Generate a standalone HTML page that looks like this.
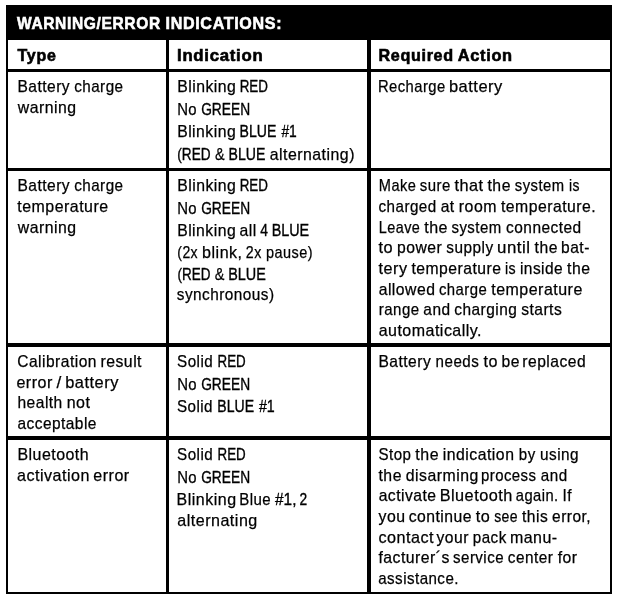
<!DOCTYPE html>
<html lang="en">
<head>
<meta charset="utf-8">
<title>Warning/Error Indications</title>
<style>
html,body{margin:0;padding:0;background:#fff;}
body{width:618px;height:598px;position:relative;overflow:hidden;font-family:"Liberation Sans",sans-serif;font-size:16.4px;color:#000;}
table,caption,thead,tbody,tr,th,td{display:block;margin:0;padding:0;border:0;font:inherit;text-align:left;}
.r{position:absolute;background:#000;}
.t{position:absolute;left:0;width:618px;height:20px;line-height:20px;white-space:pre;letter-spacing:0.5px;-webkit-text-stroke:0.25px #000;}
.t span{position:absolute;top:0;left:0;transform-origin:0 0;}
.t .u{letter-spacing:0px;-webkit-text-stroke-width:0.35px;}
caption .t,th .t{font-weight:700;font-size:16.6px;letter-spacing:0.7px;-webkit-text-stroke:0.6px #000;}
caption .t{color:#fff;-webkit-text-stroke-color:#fff;}
</style>
</head>
<body>
<!-- table frame: header bar, outer border, column and row rules -->
<div class="r" style="left:6px;top:5px;width:606px;height:35px"></div>
<div class="r" style="left:6px;top:5px;width:2px;height:589px"></div>
<div class="r" style="left:610px;top:5px;width:2px;height:589px"></div>
<div class="r" style="left:6px;top:592px;width:606px;height:2px"></div>
<div class="r" style="left:166px;top:40px;width:3px;height:554px"></div>
<div class="r" style="left:367px;top:40px;width:4px;height:554px"></div>
<div class="r" style="left:6px;top:69px;width:606px;height:3px"></div>
<div class="r" style="left:6px;top:168px;width:606px;height:3px"></div>
<div class="r" style="left:6px;top:343px;width:606px;height:4px"></div>
<div class="r" style="left:6px;top:436px;width:606px;height:4px"></div>
<table>
<caption><div class="t" style="top:14px"><span style="transform:translateX(16.94px) scaleX(0.9353)">WARNING/ERROR</span> <span style="transform:translateX(165.56px) scaleX(0.9674)">INDICATIONS:</span></div></caption>
<thead><tr>
<th><div class="t" style="top:46px"><span style="transform:translateX(17.62px) scaleX(0.9635)">Type</span></div></th>
<th><div class="t" style="top:46px"><span style="transform:translateX(177.04px) scaleX(1.0114)">Indication</span></div></th>
<th><div class="t" style="top:46px"><span style="transform:translateX(378.39px) scaleX(0.9730)">Required</span> <span style="transform:translateX(457.70px) scaleX(0.9873)">Action</span></div></th>
</tr></thead>
<tbody>
<tr>
<td>
<div class="t" style="top:76px"><span style="transform:translateX(17.42px) scaleX(0.9498)">Battery</span> <span style="transform:translateX(74.18px) scaleX(0.9286)">charge</span></div>
<div class="t" style="top:97px"><span style="transform:translateX(17.75px) scaleX(0.9636)">warning</span></div>
</td>
<td>
<div class="t" style="top:76px"><span style="transform:translateX(177.14px) scaleX(0.9652)">Blinking</span> <span class="u" style="transform:translateX(239.67px) scaleX(0.8180)">RED</span></div>
<div class="t" style="top:99px"><span style="transform:translateX(177.15px) scaleX(0.9094)">No</span> <span class="u" style="transform:translateX(201.17px) scaleX(0.8390)">GREEN</span></div>
<div class="t" style="top:121px"><span style="transform:translateX(177.14px) scaleX(0.9613)">Blinking</span> <span class="u" style="transform:translateX(239.59px) scaleX(0.8582)">BLUE</span> <span class="u" style="transform:translateX(281.40px) scaleX(0.8433)">#1</span></div>
<div class="t" style="top:144px"><span class="u" style="transform:translateX(177.31px) scaleX(0.8309)">(RED</span> <span style="transform:translateX(215.06px) scaleX(0.8768)">&amp;</span> <span class="u" style="transform:translateX(228.49px) scaleX(0.8601)">BLUE</span> <span style="transform:translateX(269.66px) scaleX(0.9687)">alternating)</span></div>
</td>
<td>
<div class="t" style="top:76px"><span style="transform:translateX(377.98px) scaleX(0.9002)">Recharge</span> <span style="transform:translateX(448.94px) scaleX(1.0037)">battery</span></div>
</td>
</tr>
<tr>
<td>
<div class="t" style="top:175px"><span style="transform:translateX(17.42px) scaleX(0.9498)">Battery</span> <span style="transform:translateX(74.18px) scaleX(0.9286)">charge</span></div>
<div class="t" style="top:196px"><span style="transform:translateX(17.35px) scaleX(0.9721)">temperature</span></div>
<div class="t" style="top:217px"><span style="transform:translateX(17.75px) scaleX(0.9636)">warning</span></div>
</td>
<td>
<div class="t" style="top:175px"><span style="transform:translateX(177.14px) scaleX(0.9652)">Blinking</span> <span class="u" style="transform:translateX(239.67px) scaleX(0.8180)">RED</span></div>
<div class="t" style="top:198px"><span style="transform:translateX(177.15px) scaleX(0.9094)">No</span> <span class="u" style="transform:translateX(201.17px) scaleX(0.8390)">GREEN</span></div>
<div class="t" style="top:220px"><span style="transform:translateX(177.16px) scaleX(0.9608)">Blinking</span> <span style="transform:translateX(239.49px) scaleX(0.9612)">all</span> <span class="u" style="transform:translateX(260.16px) scaleX(0.8420)">4</span> <span class="u" style="transform:translateX(271.68px) scaleX(0.8752)">BLUE</span></div>
<div class="t" style="top:242px"><span style="transform:translateX(177.27px) scaleX(0.8575)">(2x</span> <span style="transform:translateX(202.06px) scaleX(0.9819)">blink,</span> <span style="transform:translateX(245.80px) scaleX(0.8675)">2x</span> <span style="transform:translateX(266.01px) scaleX(0.8828)">pause)</span></div>
<div class="t" style="top:264px"><span class="u" style="transform:translateX(177.42px) scaleX(0.8236)">(RED</span> <span style="transform:translateX(214.77px) scaleX(0.8791)">&amp;</span> <span class="u" style="transform:translateX(228.21px) scaleX(0.8792)">BLUE</span></div>
<div class="t" style="top:284px"><span style="transform:translateX(176.78px) scaleX(0.9363)">synchronous)</span></div>
</td>
<td>
<div class="t" style="top:175px"><span style="transform:translateX(378.79px) scaleX(0.8900)">Make</span> <span style="transform:translateX(419.79px) scaleX(0.9124)">sure</span> <span style="transform:translateX(454.51px) scaleX(0.9920)">that</span> <span style="transform:translateX(487.50px) scaleX(0.9629)">the</span> <span style="transform:translateX(514.87px) scaleX(0.9025)">system</span> <span style="transform:translateX(569.00px) scaleX(0.8519)">is</span></div>
<div class="t" style="top:196px"><span style="transform:translateX(378.54px) scaleX(0.9268)">charged</span> <span style="transform:translateX(440.67px) scaleX(0.9558)">at</span> <span style="transform:translateX(458.83px) scaleX(0.9698)">room</span> <span style="transform:translateX(501.01px) scaleX(0.9620)">temperature.</span></div>
<div class="t" style="top:217px"><span style="transform:translateX(378.85px) scaleX(0.8794)">Leave</span> <span style="transform:translateX(424.20px) scaleX(0.9779)">the</span> <span style="transform:translateX(451.50px) scaleX(0.9123)">system</span> <span style="transform:translateX(506.07px) scaleX(0.9435)">connected</span></div>
<div class="t" style="top:237px"><span style="transform:translateX(378.45px) scaleX(0.9958)">to</span> <span style="transform:translateX(397.11px) scaleX(0.9576)">power</span> <span style="transform:translateX(446.37px) scaleX(0.9362)">supply</span> <span style="transform:translateX(497.11px) scaleX(1.0260)">until</span> <span style="transform:translateX(534.59px) scaleX(0.9571)">the</span> <span style="transform:translateX(561.08px) scaleX(0.9505)">bat-</span></div>
<div class="t" style="top:258px"><span style="transform:translateX(378.59px) scaleX(0.9862)">tery</span> <span style="transform:translateX(411.41px) scaleX(0.9584)">temperature</span> <span style="transform:translateX(504.91px) scaleX(0.8649)">is</span> <span style="transform:translateX(519.88px) scaleX(0.9452)">inside</span> <span style="transform:translateX(567.01px) scaleX(0.9631)">the</span></div>
<div class="t" style="top:279px"><span style="transform:translateX(378.64px) scaleX(0.9605)">allowed</span> <span style="transform:translateX(438.94px) scaleX(0.9090)">charge</span> <span style="transform:translateX(491.27px) scaleX(0.9745)">temperature</span></div>
<div class="t" style="top:299px"><span style="transform:translateX(378.83px) scaleX(0.9157)">range</span> <span style="transform:translateX(423.34px) scaleX(0.9427)">and</span> <span style="transform:translateX(454.30px) scaleX(0.9415)">charging</span> <span style="transform:translateX(521.19px) scaleX(0.9522)">starts</span></div>
<div class="t" style="top:320px"><span style="transform:translateX(378.68px) scaleX(0.9751)">automatically.</span></div>
</td>
</tr>
<tr>
<td>
<div class="t" style="top:351px"><span style="transform:translateX(17.27px) scaleX(0.9495)">Calibration</span> <span style="transform:translateX(100.48px) scaleX(0.9636)">result</span></div>
<div class="t" style="top:372px"><span style="transform:translateX(16.42px) scaleX(0.9795)">error</span> <span style="transform:translateX(56.60px) scaleX(1.0464)">/</span> <span style="transform:translateX(65.22px) scaleX(1.0004)">battery</span></div>
<div class="t" style="top:392px"><span style="transform:translateX(17.46px) scaleX(0.9504)">health</span> <span style="transform:translateX(66.68px) scaleX(0.9751)">not</span></div>
<div class="t" style="top:413px"><span style="transform:translateX(17.41px) scaleX(0.9432)">acceptable</span></div>
</td>
<td>
<div class="t" style="top:351px"><span style="transform:translateX(177.08px) scaleX(0.9256)">Solid</span> <span class="u" style="transform:translateX(217.58px) scaleX(0.8141)">RED</span></div>
<div class="t" style="top:374px"><span style="transform:translateX(177.15px) scaleX(0.9094)">No</span> <span class="u" style="transform:translateX(201.17px) scaleX(0.8390)">GREEN</span></div>
<div class="t" style="top:396px"><span style="transform:translateX(176.96px) scaleX(0.9254)">Solid</span> <span class="u" style="transform:translateX(217.32px) scaleX(0.8567)">BLUE</span> <span class="u" style="transform:translateX(258.94px) scaleX(0.8670)">#1</span></div>
</td>
<td>
<div class="t" style="top:351px"><span style="transform:translateX(378.50px) scaleX(0.9501)">Battery</span> <span style="transform:translateX(435.61px) scaleX(0.9243)">needs</span> <span style="transform:translateX(483.45px) scaleX(0.9848)">to</span> <span style="transform:translateX(501.61px) scaleX(0.9551)">be</span> <span style="transform:translateX(522.31px) scaleX(0.9534)">replaced</span></div>
</td>
</tr>
<tr>
<td>
<div class="t" style="top:444px"><span style="transform:translateX(17.41px) scaleX(0.9724)">Bluetooth</span></div>
<div class="t" style="top:465px"><span style="transform:translateX(17.00px) scaleX(0.9820)">activation</span> <span style="transform:translateX(93.34px) scaleX(0.9793)">error</span></div>
</td>
<td>
<div class="t" style="top:444px"><span style="transform:translateX(177.08px) scaleX(0.9256)">Solid</span> <span class="u" style="transform:translateX(217.58px) scaleX(0.8141)">RED</span></div>
<div class="t" style="top:467px"><span style="transform:translateX(177.15px) scaleX(0.9094)">No</span> <span class="u" style="transform:translateX(201.17px) scaleX(0.8390)">GREEN</span></div>
<div class="t" style="top:489px"><span style="transform:translateX(176.57px) scaleX(0.9764)">Blinking</span> <span style="transform:translateX(239.26px) scaleX(0.9172)">Blue</span> <span class="u" style="transform:translateX(275.07px) scaleX(0.9367)">#1,</span> <span class="u" style="transform:translateX(299.52px) scaleX(0.8386)">2</span></div>
<div class="t" style="top:510px"><span style="transform:translateX(177.29px) scaleX(0.9805)">alternating</span></div>
</td>
<td>
<div class="t" style="top:444px"><span style="transform:translateX(378.53px) scaleX(0.9192)">Stop</span> <span style="transform:translateX(415.37px) scaleX(0.9727)">the</span> <span style="transform:translateX(442.85px) scaleX(0.9635)">indication</span> <span style="transform:translateX(518.86px) scaleX(0.9156)">by</span> <span style="transform:translateX(540.05px) scaleX(0.9350)">using</span></div>
<div class="t" style="top:465px"><span style="transform:translateX(378.49px) scaleX(0.9644)">the</span> <span style="transform:translateX(405.82px) scaleX(0.9662)">disarming</span> <span style="transform:translateX(480.99px) scaleX(0.9107)">process</span> <span style="transform:translateX(540.85px) scaleX(0.9267)">and</span></div>
<div class="t" style="top:485px"><span style="transform:translateX(378.64px) scaleX(0.9565)">activate</span> <span style="transform:translateX(439.64px) scaleX(0.9918)">Bluetooth</span> <span style="transform:translateX(515.82px) scaleX(0.8988)">again.</span> <span style="transform:translateX(562.47px) scaleX(0.9361)">If</span></div>
<div class="t" style="top:506px"><span style="transform:translateX(378.51px) scaleX(0.9670)">you</span> <span style="transform:translateX(408.65px) scaleX(0.9607)">continue</span> <span style="transform:translateX(475.86px) scaleX(0.9881)">to</span> <span style="transform:translateX(494.19px) scaleX(0.8549)">see</span> <span style="transform:translateX(522.01px) scaleX(0.9506)">this</span> <span style="transform:translateX(552.04px) scaleX(0.9455)">error,</span></div>
<div class="t" style="top:527px"><span style="transform:translateX(378.51px) scaleX(0.9867)">contact</span> <span style="transform:translateX(436.52px) scaleX(0.9547)">your</span> <span style="transform:translateX(472.86px) scaleX(0.9233)">pack</span> <span style="transform:translateX(509.94px) scaleX(0.9751)">manu-</span></div>
<div class="t" style="top:547px"><span style="transform:translateX(378.46px) scaleX(0.9636)">facturer´s</span> <span style="transform:translateX(453.09px) scaleX(0.9180)">service</span> <span style="transform:translateX(507.79px) scaleX(0.9354)">center</span> <span style="transform:translateX(557.67px) scaleX(0.9596)">for</span></div>
<div class="t" style="top:568px"><span style="transform:translateX(378.24px) scaleX(0.9220)">assistance.</span></div>
</td>
</tr>
</tbody>
</table>
</body>
</html>
